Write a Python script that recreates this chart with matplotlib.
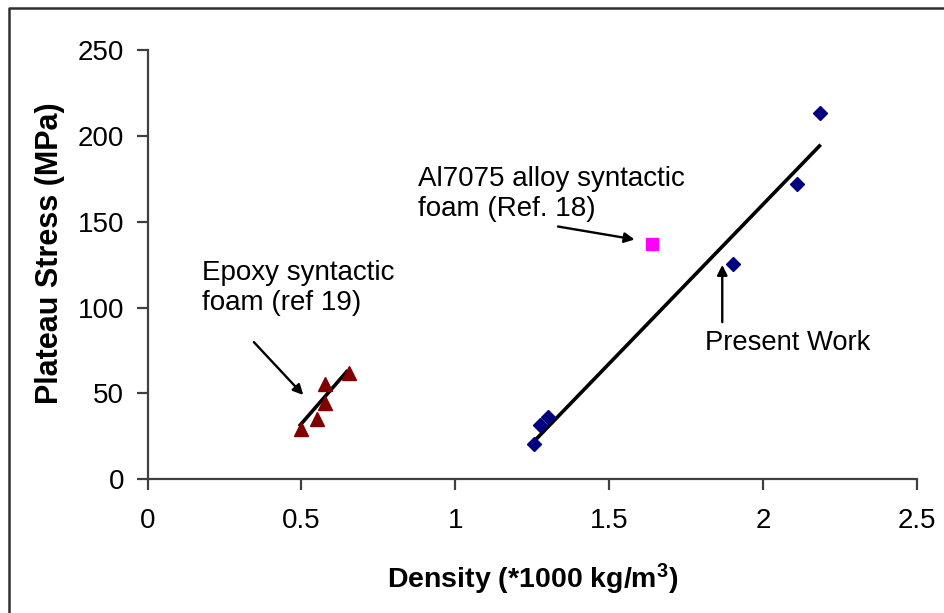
import matplotlib
matplotlib.use("Agg")
import matplotlib.pyplot as plt
from matplotlib.lines import Line2D

plt.rcParams['font.family'] = ['Liberation Sans', 'DejaVu Sans']
plt.rcParams['mathtext.fontset'] = 'custom'
plt.rcParams['mathtext.rm'] = 'Liberation Sans:bold'
plt.rcParams['mathtext.default'] = 'rm'

# data
epoxy_density = [0.499, 0.550, 0.577, 0.577, 0.653]
epoxy_stress = [29.2, 34.8, 44.1, 55.2, 62.0]
epoxy_fit_x = [0.496, 0.647]
epoxy_fit_y = [31.5, 62.6]

present_density = [1.257, 1.276, 1.302, 1.903, 2.111, 2.187]
present_stress = [20.4, 31.5, 36.2, 125.2, 172.0, 213.6]
present_fit_x = [1.260, 2.184]
present_fit_y = [22.7, 194.2]

al_density = [1.640]
al_stress = [136.9]

x_ticks = [0, 0.5, 1, 1.5, 2, 2.5]
x_tick_labels = ['0', '0.5', '1', '1.5', '2', '2.5']
y_ticks = [0, 50, 100, 150, 200, 250]

fig = plt.figure(figsize=(9.45, 6.13), dpi=100)
ax = fig.add_axes([0.1563, 0.2186, 0.8137, 0.6994])

ax.plot(epoxy_fit_x, epoxy_fit_y, color='black', lw=2.6, zorder=2)
ax.plot(present_fit_x, present_fit_y, color='black', lw=2.6, zorder=2)
ax.plot(epoxy_density, epoxy_stress, ls='none', marker='^', ms=10,
        color='#800000', zorder=3)
ax.plot(present_density, present_stress, ls='none', marker='D', ms=7,
        color='#000080', zorder=3)
ax.plot(al_density, al_stress, ls='none', marker='s', ms=8,
        color='#ff00ff', zorder=3)

ax.set_xlim(0, 2.5)
ax.set_ylim(0, 250)
ax.set_xticks(x_ticks)
ax.set_xticklabels(x_tick_labels)
ax.set_yticks(y_ticks)

for side in ['top', 'right']:
    ax.spines[side].set_visible(False)
for side in ['left', 'bottom']:
    ax.spines[side].set_color('#404040')
    ax.spines[side].set_linewidth(1.6)
ax.tick_params(direction='out', length=8, width=1.6, color='#404040',
               labelsize=20, pad=9)
ax.tick_params(axis='x', pad=13)

ax.set_xlabel(r'Density (*1000 kg/m$^{3}$)', fontsize=20.5, fontweight='bold')
ax.set_ylabel('Plateau Stress (MPa)', fontsize=22, fontweight='bold')
ax.xaxis.set_label_coords(0.501, -0.194)
ax.yaxis.set_label_coords(-0.107, 0.527)

arrow = dict(arrowstyle='-|>', color='black', lw=1.7, mutation_scale=15)
ax.annotate('', xy=(1.592, 139.4), xytext=(1.325, 147.5), arrowprops=arrow)
ax.annotate('', xy=(0.512, 47.8), xytext=(0.339, 81.0), arrowprops=arrow)
ax.annotate('', xy=(1.868, 126.5), xytext=(1.868, 89.8), arrowprops=arrow)

ax.text(0.879, 166.2, 'Al7075 alloy syntactic\nfoam (Ref. 18)', fontsize=20,
        ha='left', va='center')
ax.text(0.177, 111.1, 'Epoxy syntactic\nfoam (ref 19)', fontsize=20,
        ha='left', va='center')
ax.text(1.813, 79.3, 'Present Work', fontsize=19.7, ha='left', va='center')

# frame of the original figure (left and top edges visible)
fig.add_artist(Line2D([9.5 / 945, 9.5 / 945, 1.0], [0.0, 1 - 8 / 613, 1 - 8 / 613],
                      transform=fig.transFigure, color='#303030', lw=1.8))

fig.savefig('out.png', dpi=100)
